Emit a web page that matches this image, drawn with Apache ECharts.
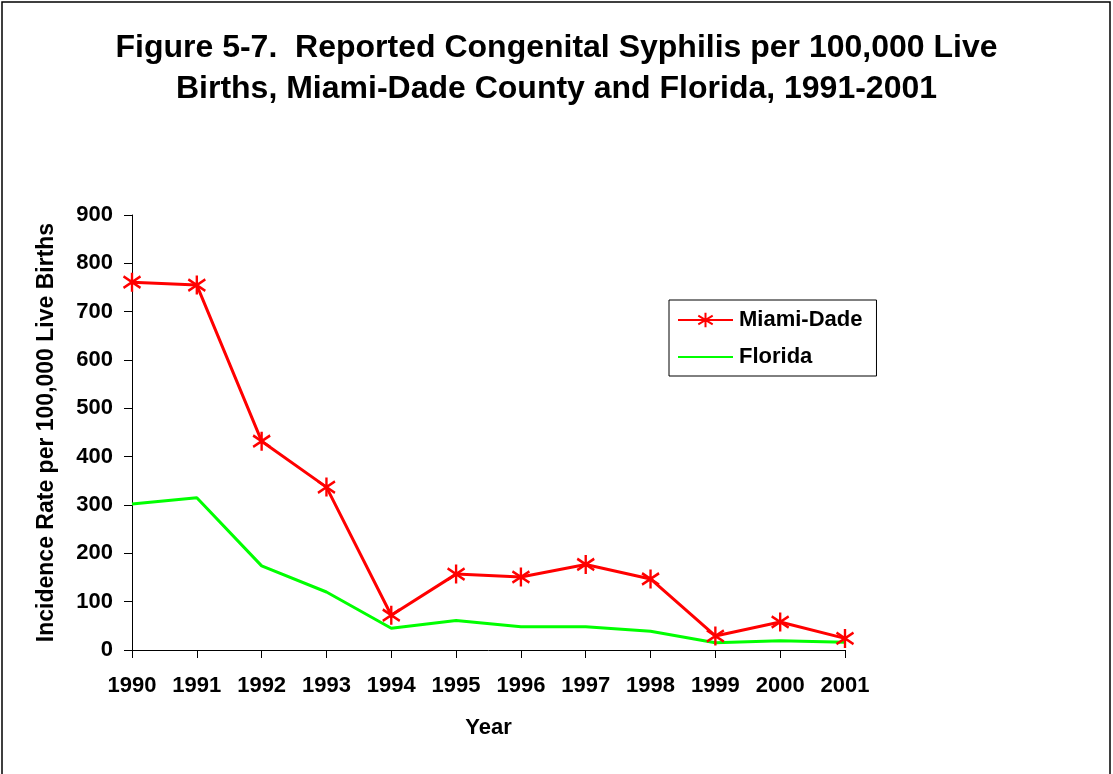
<!DOCTYPE html>
<html>
<head>
<meta charset="utf-8">
<script src="https://cdn.jsdelivr.net/npm/echarts@6/dist/echarts.min.js"></script>
<style>
  html, body { margin: 0; padding: 0; background: #fff; }
  #chart { width: 1113px; height: 774px; }
</style>
</head>
<body>
<div id="chart"></div>
<script>
// data
const years = ['1990', '1991', '1992', '1993', '1994', '1995', '1996', '1997', '1998', '1999', '2000', '2001'];
const miamiDade = [761, 755, 432, 337, 72, 157, 151, 177, 147, 29, 58, 24];
const florida = [302, 315, 174, 120, 45, 61, 48, 48, 39, 15, 19, 16];
const yTicks = [0, 900, 100]; // min, max, interval

const FONT = 'Liberation Sans, Arial, sans-serif';
// asterisk marker like the Excel star
const star = 'path://M0,-10L0,10M-9,-6L9,6M-9,6L9,-6';

let myChart = echarts.init(document.getElementById('chart'));
myChart.setOption({
  animation: false,
  backgroundColor: '#fff',
  title: {
    text: 'Figure 5-7.  Reported Congenital Syphilis per 100,000 Live\nBirths, Miami-Dade County and Florida, 1991-2001',
    left: 'center',
    top: 28,
    padding: [0, 0, 0, 12],
    textStyle: { fontFamily: FONT, fontSize: 32, fontWeight: 'bold', color: '#000', lineHeight: 41, align: 'center' }
  },
  legend: {
    orient: 'vertical',
    left: 669,
    top: 300,
    padding: [9, 14, 8, 8],
    itemGap: 15,
    itemWidth: 55,
    itemHeight: 18,
    borderColor: '#000',
    borderWidth: 1,
    borderRadius: 0,
    textStyle: { fontFamily: FONT, fontSize: 22, fontWeight: 'bold', color: '#000', padding: [0, 0, 0, 1] },
    data: [
      { name: 'Miami-Dade' },
      { name: 'Florida', itemStyle: { opacity: 0 } }
    ]
  },
  grid: { left: 132, right: 268, top: 215, bottom: 124 },
  xAxis: {
    type: 'category',
    data: years,
    boundaryGap: false,
    name: 'Year',
    nameLocation: 'middle',
    nameGap: 67,
    nameTextStyle: { fontFamily: FONT, fontSize: 22, fontWeight: 'bold', color: '#000' },
    axisLine: { lineStyle: { color: '#000', width: 1 } },
    axisTick: { alignWithLabel: true, length: 8, lineStyle: { color: '#000' } },
    axisLabel: { fontFamily: FONT, fontSize: 22, fontWeight: 'bold', color: '#000', margin: 25 },
    splitLine: { show: false }
  },
  yAxis: {
    type: 'value',
    min: yTicks[0],
    max: yTicks[1],
    interval: yTicks[2],
    name: 'Incidence Rate per 100,000 Live Births',
    nameLocation: 'middle',
    nameGap: 74,
    nameTextStyle: { fontFamily: FONT, fontSize: 23, fontWeight: 'bold', color: '#000' },
    axisLine: { show: true, lineStyle: { color: '#000', width: 1 } },
    axisTick: { show: true, length: 8, lineStyle: { color: '#000' } },
    axisLabel: { fontFamily: FONT, fontSize: 22, fontWeight: 'bold', color: '#000', margin: 19 },
    splitLine: { show: false }
  },
  series: [
    {
      name: 'Miami-Dade',
      type: 'line',
      data: miamiDade,
      symbol: star,
      symbolSize: [17, 19],
      lineStyle: { color: '#ff0000', width: 3 },
      itemStyle: { color: '#ff0000', borderColor: '#ff0000', borderWidth: 2.5 },
      z: 3
    },
    {
      name: 'Florida',
      type: 'line',
      data: florida,
      symbol: 'none',
      lineStyle: { color: '#00ff00', width: 3 },
      itemStyle: { color: '#00ff00' },
      z: 2
    }
  ],
  graphic: [{
    type: 'rect',
    shape: { x: 2, y: 2, width: 1108, height: 790 },
    style: { fill: 'none', stroke: '#000', lineWidth: 1.5 },
    silent: true
  }]
});
</script>
</body>
</html>
